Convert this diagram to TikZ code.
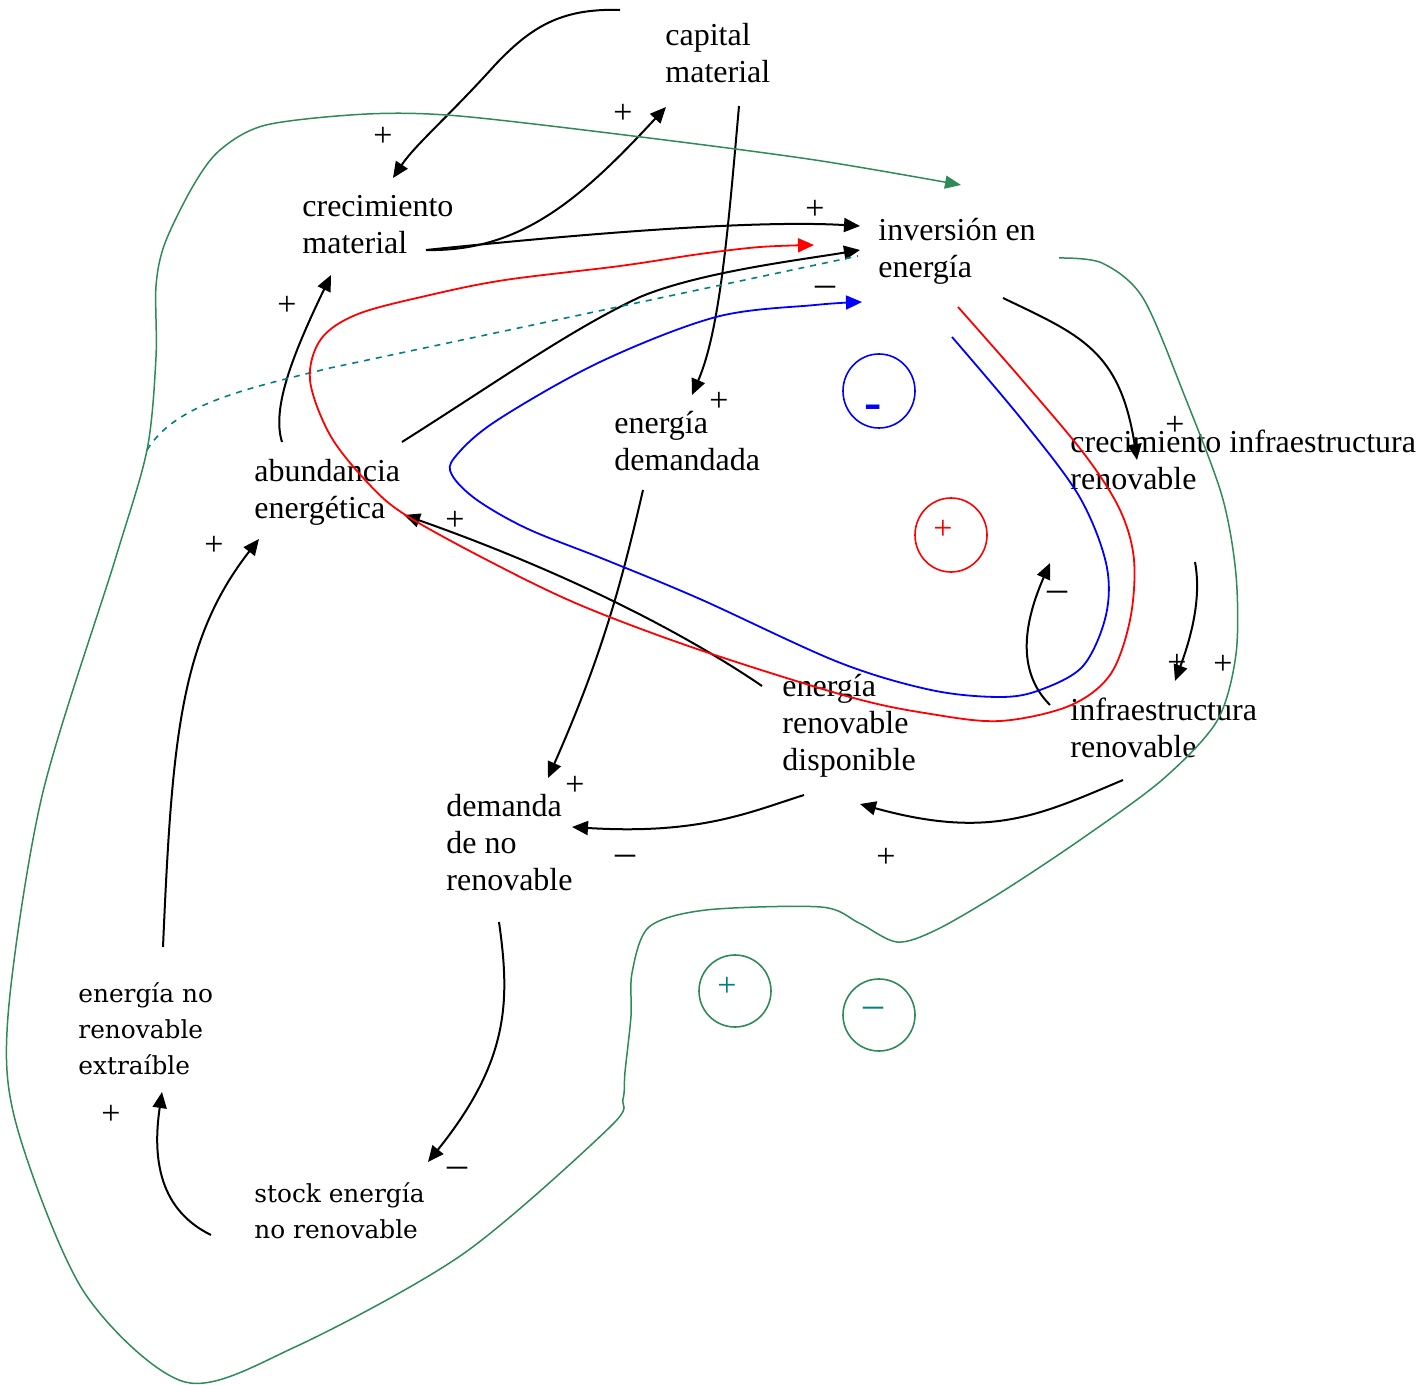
\documentclass[tikz,border=0pt]{standalone}
\usepackage{fontspec}
\setmainfont{Liberation Serif}
\newfontfamily\widefont{DejaVu Serif}
\usetikzlibrary{arrows.meta}
\definecolor{sgreen}{RGB}{46,139,87}
\definecolor{tealc}{RGB}{0,128,128}
\begin{document}
\begin{tikzpicture}[x=0.5pt,y=-0.5pt,
  lbl/.style={anchor=base west, align=left, inner sep=0pt, font=\fontsize{16}{18.5}\selectfont},
  wlbl/.style={anchor=base west, align=left, inner sep=0pt, font=\widefont\fontsize{12.4}{18}\selectfont},
  conn/.style={line width=1pt, -{Triangle[length=8pt,width=7pt]}},
  loopred/.style={red, line width=0.9pt, -{Triangle[length=8pt,width=7pt]}},
  loopblue/.style={blue, line width=0.9pt, -{Triangle[length=8pt,width=7pt]}},
  loopgreen/.style={sgreen, line width=0.75pt, -{Triangle[length=8pt,width=6.5pt]}},
  sgn/.style={inner sep=0pt, font=\fontsize{17}{17}\selectfont},
  neg/.style={inner sep=0pt, anchor=base, font=\fontsize{20}{20}\selectfont},
  loopmark/.style={line width=0.8pt}]
\useasboundingbox (0,0) rectangle (1424,1385);

% ---- variable nodes (anchor = baseline of the last line)
\node[lbl] (cap)  at (665,83)  {capital\\material};
\node[lbl] (crm)  at (302,254) {crecimiento\\material};
\node[lbl] (inv)  at (878,278) {inversión en\\energía};
\node[lbl] (edem) at (614,471) {energía\\demandada};
\node[lbl] (abu)  at (254,518) {abundancia\\energética};
\node[lbl] (cinf) at (1070,489) {crecimiento infraestructura\\renovable};
\node[lbl] (inf)  at (1070,757) {infraestructura\\renovable};
\node[lbl] (erd)  at (782,770) {energía\\renovable\\disponible};
\node[lbl] (dnr)  at (446,890) {demanda\\de no\\renovable};
\node[wlbl] (enr) at (78,1074) {energía no\\renovable\\extraíble};
\node[wlbl] (snr) at (254,1238) {stock energía\\no renovable};

% ---- connector end points
\coordinate (capOut1) at (620,10);
\coordinate (capOut2) at (739,106);
\coordinate (capIn)   at (666,107);
\coordinate (crmIn)   at (393,178);
\coordinate (crmIn2)  at (331,275);
\coordinate (crmOut)  at (426,250);
\coordinate (invIn1)  at (860,226);
\coordinate (invIn2)  at (860,250);
\coordinate (invIn3)  at (858,256);
\coordinate (invOut)  at (1003,298);
\coordinate (edemIn)  at (692,395);
\coordinate (edemOut) at (643,490);
\coordinate (abuOut1) at (282,442);
\coordinate (abuOut2) at (402,442);
\coordinate (abuIn1)  at (404,515);
\coordinate (abuIn2)  at (259,539);
\coordinate (cinfIn)  at (1137,460);
\coordinate (cinfOut) at (1195,562);
\coordinate (cinfIn2) at (1050,563);
\coordinate (infIn)   at (1175,681);
\coordinate (infOut1) at (1050,705);
\coordinate (infOut2) at (1123,780);
\coordinate (erdIn)   at (860,804);
\coordinate (erdOut1) at (762,686);
\coordinate (erdOut2) at (804,795);
\coordinate (dnrIn1)  at (548,778);
\coordinate (dnrIn2)  at (572,827);
\coordinate (dnrOut)  at (499,922);
\coordinate (snrIn)   at (428,1162);
\coordinate (snrOut)  at (211,1235);
\coordinate (enrIn)   at (162,1092);
\coordinate (enrOut)  at (163,947);
\coordinate (dashStart) at (147,450);

% ---- black connectors
\draw[conn] (capOut1) .. controls (560,8) and (530,28) .. (495,65) .. controls (450,115) and (415,145) .. (crmIn);
\draw[conn] (crmOut) .. controls (520,252) and (580,200) .. (capIn);
\draw[conn] (crmOut) .. controls (600,232) and (760,220) .. (invIn1);
\draw[conn] (capOut2) .. controls (728,230) and (720,330) .. (edemIn);
\draw[conn] (abuOut1) .. controls (272,410) and (290,360) .. (crmIn2);
\draw[conn] (abuOut2) .. controls (500,380) and (570,330) .. (640,297) .. controls (700,272) and (800,260) .. (invIn2);
\draw[conn] (invOut) .. controls (1080,335) and (1120,350) .. (cinfIn);
\draw[conn] (cinfOut) .. controls (1202,600) and (1190,640) .. (infIn);
\draw[conn] (infOut1) .. controls (1015,670) and (1025,620) .. (cinfIn2);
\draw[conn] (infOut2) .. controls (1040,815) and (990,840) .. (erdIn);
\draw[conn] (erdOut1) .. controls (680,630) and (560,570) .. (abuIn1);
\draw[conn] (erdOut2) .. controls (750,812) and (700,835) .. (dnrIn2);
\draw[conn] (edemOut) .. controls (620,590) and (600,660) .. (dnrIn1);
\draw[conn] (dnrOut) .. controls (510,1000) and (510,1060) .. (snrIn);
\draw[conn] (snrOut) .. controls (160,1210) and (152,1160) .. (enrIn);
\draw[conn] (enrOut) .. controls (172,740) and (180,640) .. (abuIn2);

% ---- dashed teal link
\draw[tealc, line width=0.8pt, dashed] (dashStart) .. controls (175,405) and (240,390) .. (330,368) -- (invIn3);

% ---- loops
\draw[loopred] plot[smooth, tension=0.55] coordinates {(958,307) (1023,381) (1085,455) (1120,510) (1134,560) (1130,620) (1110,675) (1069,706) (1000,721) (931,714) (850,697) (700,650) (580,605) (487,560) (404,514) (367,482) (330,435) (310,380) (321,339) (358,314) (430,295) (505,280) (620,266) (700,254) (760,247) (814,245)};
\draw[loopblue] plot[smooth, tension=0.55] coordinates {(952,337) (1023,421) (1079,496) (1106,563) (1106,615) (1083,666) (1040,690) (1000,697) (931,690) (838,662) (700,599) (606,560) (528,529) (477,500) (452,475) (455,457) (496,421) (600,362) (716,317) (815,305) (862,302)};
\draw[loopgreen] plot[smooth, tension=0.5] coordinates {(1059,258) (1102,263) (1143,298) (1185,397) (1222,496) (1236,575) (1236,654) (1217,721) (1162,780) (1080,840) (1000,893) (936,930) (897,942) (859,923) (821,907) (706,910) (649,927) (632,973) (631,1016) (625,1072) (623,1099) (610,1127) (463,1254) (295,1347) (185,1382) (84,1292) (17,1127) (8,1016) (42,796) (115,560) (147,450) (156,357) (156,286) (165,243) (193,186) (220,150) (266,125) (367,114) (459,116) (641,137) (815,160) (961,185)};

% ---- loop markers
\draw[blue, loopmark] (879,391) ellipse [x radius=18pt, y radius=18.5pt];
\node[inner sep=0pt, anchor=base, text=blue, font=\bfseries\fontsize{26}{26}\selectfont] (bm) at (873,420) {-};
\draw[red, loopmark] (951,535) ellipse [x radius=18pt, y radius=18.5pt];
\node[sgn, text=red] (rp) at (943,530) {+};
\draw[sgreen, loopmark] (735,991) ellipse [x radius=18pt, y radius=18pt];
\node[sgn, text=tealc] (gp) at (727,987) {+};
\draw[sgreen, loopmark] (879,1015) ellipse [x radius=18pt, y radius=18pt];
\node[neg, text=tealc] (gm) at (873,1017) {–};

% ---- polarity signs
\node[sgn] (p1) at (383,137) {+};
\node[sgn] (p2) at (623,114) {+};
\node[sgn] (p3) at (815,210) {+};
\node[sgn] (p4) at (287,306) {+};
\node[sgn] (p5) at (719,402) {+};
\node[sgn] (p6) at (455,521) {+};
\node[sgn] (p7) at (214,546) {+};
\node[sgn] (p8) at (1175,426) {+};
\node[sgn] (p9) at (1177,664) {+};
\node[sgn] (p10) at (1223,665) {+};
\node[sgn] (p11) at (575,786) {+};
\node[sgn] (p12) at (886,858) {+};
\node[sgn] (p13) at (111,1115) {+};
\node[neg] (m1) at (825,297) {–};
\node[neg] (m2) at (625,865) {–};
\node[neg] (m3) at (1057,601) {–};
\node[neg] (m4) at (457,1177) {–};
\end{tikzpicture}
\end{document}
